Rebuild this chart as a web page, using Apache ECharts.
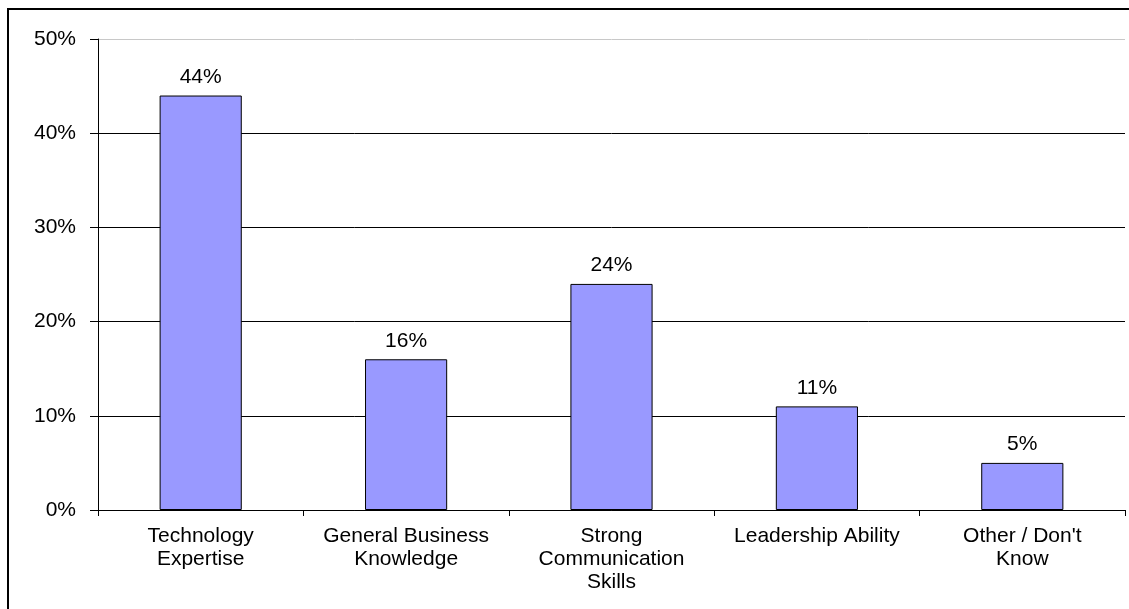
<!DOCTYPE html>
<html>
<head>
<meta charset="utf-8">
<script src="https://cdn.jsdelivr.net/npm/echarts@6/dist/echarts.min.js"></script>
<style>html,body{margin:0;padding:0;background:#fff;}#c{width:1129px;height:609px;}</style>
</head>
<body>
<div id="c"></div>
<script>
const categories = ['Technology\nExpertise', 'General Business\nKnowledge', 'Strong\nCommunication\nSkills', 'Leadership Ability', 'Other / Don\'t\nKnow'];
const values = [44, 16, 24, 11, 5];
const yTicks = [0, 10, 20, 30, 40, 50];

const FONT = '"Liberation Sans", Arial, sans-serif';
const chart = echarts.init(document.getElementById('c'), null, {renderer: 'canvas'});
chart.setOption({
  animation: false,
  backgroundColor: '#fff',
  grid: {left: 98, right: 4, top: 39, bottom: 99, containLabel: false},
  xAxis: {
    type: 'category',
    data: categories,
    axisLine: {show: true, lineStyle: {color: '#000', width: 1}},
    axisTick: {show: true, length: 6, lineStyle: {color: '#000'}},
    axisLabel: {color: '#000', fontFamily: FONT, fontSize: 21, lineHeight: 23, margin: 15, interval: 0}
  },
  yAxis: {
    type: 'value',
    min: yTicks[0],
    max: yTicks[yTicks.length - 1],
    interval: 10,
    axisLine: {show: true, lineStyle: {color: '#000', width: 1}},
    axisTick: {show: true, length: 8, lineStyle: {color: '#000'}},
    axisLabel: {color: '#000', fontFamily: FONT, fontSize: 21, margin: 22, padding: [3, 0, 0, 0], formatter: v => v + '%'},
    splitLine: {show: true, lineStyle: {color: ['#000', '#000', '#000', '#000', '#000', '#c8c8c8'], width: 1}}
  },
  series: [{
    type: 'bar',
    data: values,
    barCategoryGap: '60%',
    itemStyle: {color: '#9999FF', borderColor: '#000', borderWidth: 1},
    label: {show: true, position: 'top', distance: 8, color: '#000', fontFamily: FONT, fontSize: 21, formatter: p => p.value + '%'}
  }],
  graphic: [{
    type: 'rect',
    shape: {x: 8, y: 9, width: 1300, height: 800},
    style: {fill: 'none', stroke: '#000', lineWidth: 2},
    silent: true
  }]
});
</script>
</body>
</html>
